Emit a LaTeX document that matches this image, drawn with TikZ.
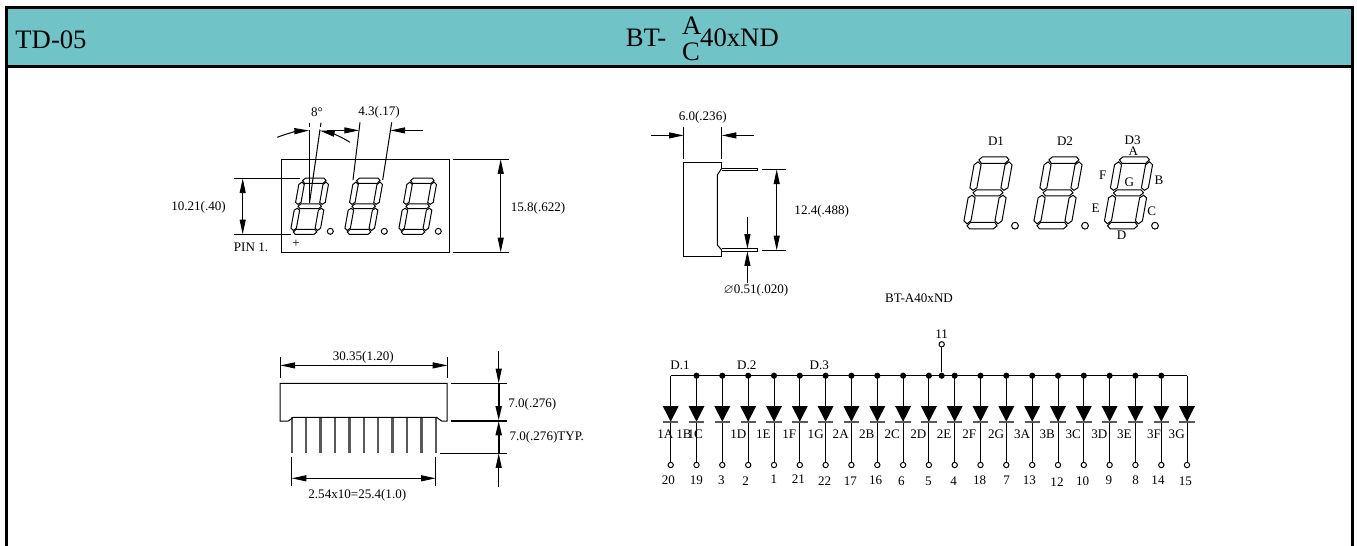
\documentclass[tikz,border=0pt]{standalone}
\usepackage{amssymb}
\usepackage{fontspec}
\setmainfont{Liberation Serif}
\usepackage{xcolor}
\usetikzlibrary{arrows.meta}
\definecolor{headteal}{rgb}{0.44, 0.77, 0.78}
\definecolor{pingray}{rgb}{0.35, 0.35, 0.35}
\tikzset{
  outline/.style={line width=0.75pt},
  frameline/.style={line width=2pt},
  pinline/.style={line width=1.8pt, pingray},
  barline/.style={line width=1.3pt, pingray},
  thickdim/.style={line width=1.5pt},
  pinring/.style={circle, draw, fill=white, line width=0.75pt, minimum size=4pt},
  busdot/.style={circle, fill=black, minimum size=4.6pt},
  headtext/.style={font=\fontsize{20}{22}\selectfont}
}
\newcommand{\sevenseg}[4]{%
\begin{scope}[shift={(#1,#2)}, scale=#3, xslant=#4, line width=0.75pt]
\draw (-12,-36) -- (12,-36) -- (15,-33) -- (12,-29.5) -- (-12,-29.5) -- (-15,-33) -- cycle;
\draw (-12,-3) -- (12,-3) -- (15,0) -- (12,3) -- (-12,3) -- (-15,0) -- cycle;
\draw (-12,29.5) -- (12,29.5) -- (15,33) -- (12,36) -- (-12,36) -- (-15,33) -- cycle;
\draw (-19,-28) -- (-15.5,-31) -- (-12,-28) -- (-12,-5) -- (-15.5,-2.5) -- (-19,-5) -- cycle;
\draw (19,-28) -- (15.5,-31) -- (12,-28) -- (12,-5) -- (15.5,-2.5) -- (19,-5) -- cycle;
\draw (-19,5) -- (-15.5,2.5) -- (-12,5) -- (-12,28) -- (-15.5,31) -- (-19,28) -- cycle;
\draw (19,5) -- (15.5,2.5) -- (12,5) -- (12,28) -- (15.5,31) -- (19,28) -- cycle;
\end{scope}}
\newcommand{\ledcol}[3]{%
\coordinate (bus#1) at (#2,375.7);
\coordinate (anode#1) at (#2,406);
\coordinate (cathode#1) at (#2,421.7);
\node[pinring] (pin#1) at (#2,465) {};
\draw[outline] (bus#1) -- (pin#1);
\fill (anode#1) ++(-8,0) -- ++(16,0) -- (cathode#1) -- cycle;
\draw[barline] (cathode#1) ++(-7.7,0) -- ++(15.4,0);
\node[#3] (dot#1) at (bus#1) {};}

\begin{document}
\begin{tikzpicture}[x=0.75pt, y=-0.75pt, >={Triangle[length=11pt,width=4.5pt]},
  every node/.style={font=\fontsize{9.8}{11}\selectfont, inner sep=0pt}]
\useasboundingbox (0,0) rectangle (1357,546);
% frame and title bar
\fill[headteal] (6,8) rectangle (1352,66);
\draw[frameline] (6.3,546) -- (6.3,7.5) -- (1352.4,7.5) -- (1352.4,546);
\draw[frameline] (6.3,66.5) -- (1352.4,66.5);
\node[headtext] (title) at (51,40) {TD-05};
\node[headtext] (bt) at (646,37.5) {BT-};
\node[headtext] (polA) at (691.7,26) {A};
\node[headtext] (polC) at (691,51.5) {C};
\node[headtext] (size) at (739.5,37.5) {40xND};
% front view
\draw[outline] (281.7,159) rectangle (449,252.3);
\sevenseg{309.7}{206.3}{0.78}{0.18}
\sevenseg{363.7}{206.3}{0.78}{0.18}
\sevenseg{417.7}{206.3}{0.78}{0.18}
\draw[outline] (330.3,231.3) circle (3);
\draw[outline] (384.3,231.3) circle (3);
\draw[outline] (438.3,231.3) circle (3);
\node (plus) at (296,243.5) {+};
\node (pinone) at (251,247) {PIN 1.};
\node (dimdigit) at (198.5,207) {10.21(.40)};
\draw[outline] (234,178.5) -- (300,178.5);
\draw[outline] (234,234.3) -- (290.7,234.3);
\draw[outline,<->] (242.7,178.5) -- (242.7,234.3);
\node (dimhigh) at (538,208) {15.8(.622)};
\draw[outline] (452.7,159.2) -- (509,159.2);
\draw[outline] (452.7,252.3) -- (509,252.3);
\draw[outline,<->] (500.7,159.2) -- (500.7,252.3);
\node (angle) at (317,112) {8°};
\draw[outline] (309.4,122.7) -- (309.4,127);
\draw[outline] (309.4,129.5) -- (309.4,203);
\draw[outline] (321,122.7) -- (320.4,127);
\draw[outline] (320,129.5) -- (309.5,203);
\draw[outline,->] (277.3,137.3) .. controls (287,133.5) and (298,131) .. (309,130.5);
\draw[outline,->] (350,142.3) .. controls (341,136.5) and (331,133) .. (320,130.7);
\node (dimpitch) at (379,112) {4.3(.17)};
\draw[outline] (360,122.3) -- (353,180);
\draw[outline] (391.7,122.3) -- (382.7,180);
\draw[outline,->] (326.7,130.4) -- (359,130.4);
\draw[outline,->] (422.7,130.4) -- (390.5,130.4);
% side view
\draw[outline] (721.7,168.3) -- (721.7,162.7) -- (683.7,162.7) -- (683.7,256) -- (721.7,256) -- (721.7,250);
\draw[outline] (721.7,168.3) -- (717.3,175) -- (717.3,245) -- (721.7,250);
\draw[outline] (721.7,168.3) -- (757.3,168.3) -- (757.3,170.7) -- (721.7,170.7);
\draw[outline] (721.7,248.8) -- (757.3,248.8) -- (757.3,251.2) -- (721.7,251.2);
\node (dimdepth) at (702.7,117.3) {6.0(.236)};
\draw[outline] (683.7,126.7) -- (683.7,159.3);
\draw[outline] (721.7,126.7) -- (721.7,159.3);
\draw[outline,->] (651,135.4) -- (683.7,135.4);
\draw[outline,->] (754,135.4) -- (721.7,135.4);
\node (dimspan) at (821.7,211.7) {12.4(.488)};
\draw[outline] (761.7,169.4) -- (785.7,169.4);
\draw[outline] (761.7,250.4) -- (785.7,250.4);
\draw[outline,<->] (776.7,169.4) -- (776.7,250.4);
\node (dimlead) at (756,290) {$\varnothing$0.51(.020)};
\draw[outline,->] (747.4,216.7) -- (747.4,248.8);
\draw[outline,->] (747.4,282.7) -- (747.4,251.2);
% segment names
\sevenseg{988}{192.8}{1}{0.18}
\sevenseg{1058}{192.8}{1}{0.18}
\sevenseg{1128.5}{192.8}{1}{0.18}
\draw[outline] (1015,225.7) circle (3.4);
\draw[outline] (1085,225.7) circle (3.4);
\draw[outline] (1155,225.7) circle (3.4);
\node (D1) at (996,140.7) {D1};
\node (D2) at (1065,140.7) {D2};
\node (D3) at (1132.7,140.7) {D3};
\node (segA) at (1133.3,151) {A};
\node (segF) at (1102.7,175) {F};
\node (segB) at (1159,180.7) {B};
\node (segG) at (1129.3,182.3) {G};
\node (segE) at (1095.7,208.3) {E};
\node (segC) at (1151.7,211) {C};
\node (segD) at (1121.7,235.7) {D};
\node (part) at (919,298) {BT-A40xND};
% bottom view
\draw[pinline] (291.7,417.3) -- (291.7,453.3);
\draw[pinline] (306.1,417.3) -- (306.1,453.3);
\draw[pinline] (320.5,417.3) -- (320.5,453.3);
\draw[pinline] (334.9,417.3) -- (334.9,453.3);
\draw[pinline] (349.3,417.3) -- (349.3,453.3);
\draw[pinline] (363.7,417.3) -- (363.7,453.3);
\draw[pinline] (378.1,417.3) -- (378.1,453.3);
\draw[pinline] (392.5,417.3) -- (392.5,453.3);
\draw[pinline] (406.9,417.3) -- (406.9,453.3);
\draw[pinline] (421.3,417.3) -- (421.3,453.3);
\draw[pinline] (435.7,417.3) -- (435.7,453.3);
\draw[outline] (280,421) -- (280,383.3) -- (447,383.3) -- (447,421) -- (441.7,421)
  .. controls (439,421) and (439,417.3) .. (436.7,417.3) -- (293.3,417.3)
  .. controls (291,417.3) and (291,421) .. (288.3,421) -- cycle;
\node (dimwide) at (363.3,357.3) {30.35(1.20)};
\draw[outline] (280.4,357.3) -- (280.4,378.3);
\draw[outline] (447.4,357.3) -- (447.4,378.3);
\draw[outline,<->] (280.4,365.4) -- (447.4,365.4);
\node (dimbody) at (532.3,404) {7.0(.276)};
\node (dimpin) at (546.7,437.3) {7.0(.276)TYP.};
\draw[outline] (450.7,383.3) -- (506.7,383.3);
\draw[thickdim] (450.7,420.7) -- (506.7,420.7);
\draw[outline] (440,453.3) -- (506.7,453.3);
\draw[outline,->] (498.7,351) -- (498.7,383.3);
\draw[thickdim,->] (498.7,383.3) -- (498.7,420.7);
\draw[thickdim,->] (498.7,453.3) -- (498.7,420.7);
\draw[outline,->] (498.7,486.7) -- (498.7,453.3);
\node (dimstep) at (357.3,495) {2.54x10=25.4(1.0)};
\draw[outline] (291.7,456.7) -- (291.7,486);
\draw[outline] (435.7,456.7) -- (435.7,486);
\draw[outline,<->] (291.7,478.3) -- (435.7,478.3);
% circuit
\ledcol{1A}{670.7}{coordinate}
\ledcol{1B}{696.5}{busdot}
\ledcol{1C}{722.3}{busdot}
\ledcol{1D}{748.2}{busdot}
\ledcol{1E}{774}{busdot}
\ledcol{1F}{799.8}{busdot}
\ledcol{1G}{825.6}{busdot}
\ledcol{2A}{851.4}{busdot}
\ledcol{2B}{877.3}{busdot}
\ledcol{2C}{903.1}{busdot}
\ledcol{2D}{928.9}{busdot}
\ledcol{2E}{954.7}{busdot}
\ledcol{2F}{980.5}{busdot}
\ledcol{2G}{1006.3}{busdot}
\ledcol{3A}{1032.2}{busdot}
\ledcol{3B}{1058}{busdot}
\ledcol{3C}{1083.8}{busdot}
\ledcol{3D}{1109.6}{busdot}
\ledcol{3E}{1135.4}{busdot}
\ledcol{3F}{1161.3}{busdot}
\ledcol{3G}{1187}{coordinate}
\draw[outline] (bus1A) -- (bus3G);
\node[busdot] (tie) at (941.7,375.7) {};
\node[pinring] (pin11) at (941.7,344.3) {};
\draw[outline] (tie) -- (pin11);
\node (n11) at (941.7,334.3) {11};
\node (d1) at (680,365.7) {D.1};
\node (d2) at (746.7,365.7) {D.2};
\node (d3) at (819.3,365.7) {D.3};
\node (l1A) at (665.3,434) {1A};
\node (l1B) at (684,434) {1B};
\node (l1C) at (695.3,434) {1C};
\node (l1D) at (738.3,434) {1D};
\node (l1E) at (763.3,434) {1E};
\node (l1F) at (789.3,434) {1F};
\node (l1G) at (815.7,434) {1G};
\node (l2A) at (840.7,434) {2A};
\node (l2B) at (866.7,434) {2B};
\node (l2C) at (892.3,434) {2C};
\node (l2D) at (918.3,434) {2D};
\node (l2E) at (944,434) {2E};
\node (l2F) at (969.3,434) {2F};
\node (l2G) at (996,434) {2G};
\node (l3A) at (1022,434) {3A};
\node (l3B) at (1047.3,434) {3B};
\node (l3C) at (1073.3,434) {3C};
\node (l3D) at (1099.3,434) {3D};
\node (l3E) at (1124.3,434) {3E};
\node (l3F) at (1154,434) {3F};
\node (l3G) at (1176.7,434) {3G};
\node (n20) at (668.3,480.7) {20};
\node (n19) at (696.3,480.7) {19};
\node (n3) at (721.3,480.7) {3};
\node (n2) at (745.7,480.7) {2};
\node (n1) at (774,479.3) {1};
\node (n21) at (798.3,479.3) {21};
\node (n22) at (824.7,480.7) {22};
\node (n17) at (850.3,480.7) {17};
\node (n16) at (875.7,480.7) {16};
\node (n6) at (901.3,481.7) {6};
\node (n5) at (928.3,481.7) {5};
\node (n4) at (953.7,480.7) {4};
\node (n18) at (979.7,480.3) {18};
\node (n7) at (1006.7,480.7) {7};
\node (n13) at (1029.3,480.3) {13};
\node (n12) at (1057,481.7) {12};
\node (n10) at (1082.7,481.7) {10};
\node (n9) at (1109,480.7) {9};
\node (n8) at (1135.7,480.7) {8};
\node (n14) at (1158,480.3) {14};
\node (n15) at (1185.3,481.7) {15};
\end{tikzpicture}
\end{document}
